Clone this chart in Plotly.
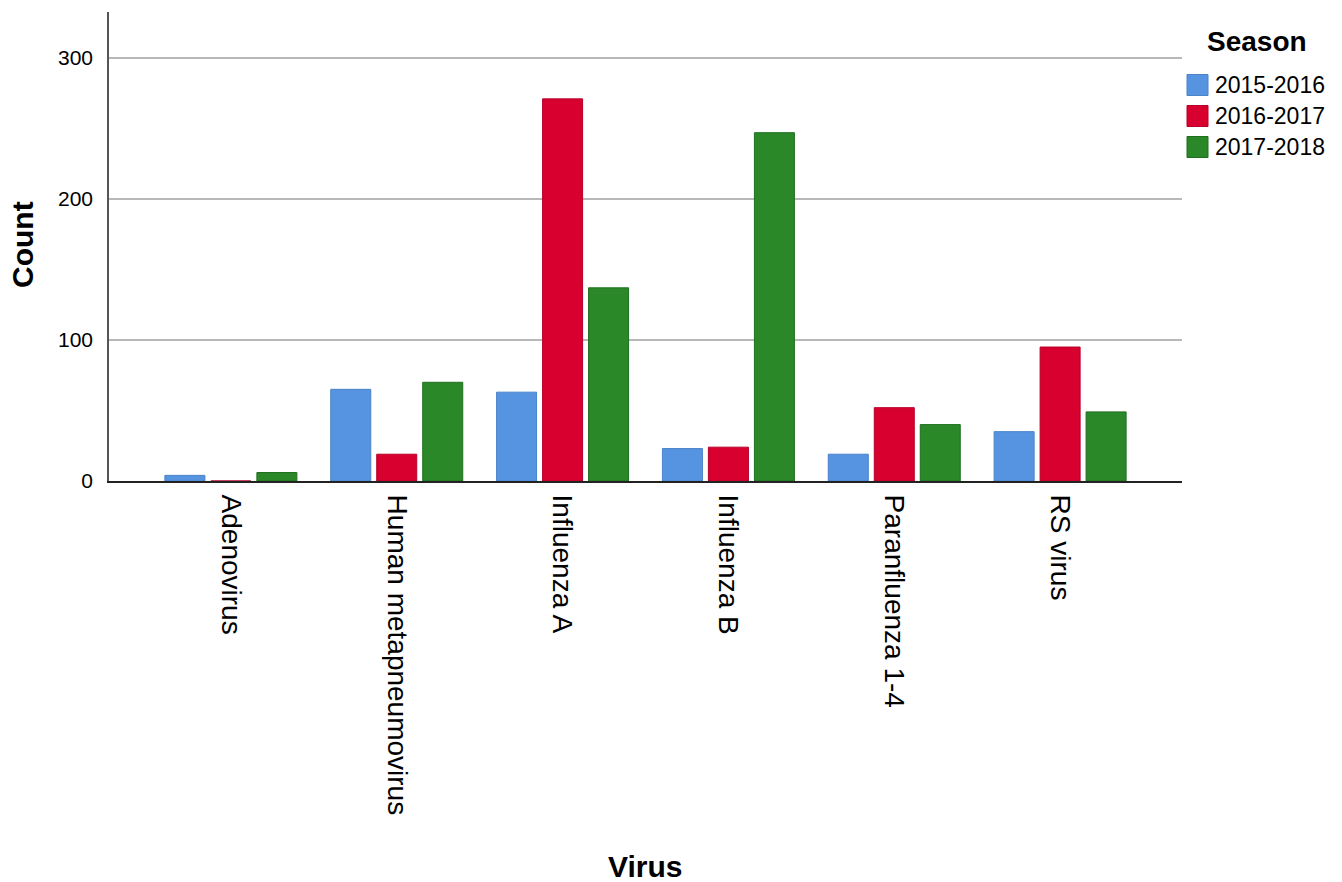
import plotly.graph_objects as go

viruses = ["Adenovirus", "Human metapneumovirus", "Influenza A", "Influenza B",
           "Paranfluenza 1-4", "RS virus"]
seasons = ["2015-2016", "2016-2017", "2017-2018"]
counts_2015_2016 = [4, 65, 63, 23, 19, 35]
counts_2016_2017 = [0, 19, 271, 24, 52, 95]
counts_2017_2018 = [6, 70, 137, 247, 40, 49]
y_ticks = [0, 100, 200, 300]

series = [counts_2015_2016, counts_2016_2017, counts_2017_2018]
fills = ["#5694E1", "#D7002F", "#2A8829"]
edges = ["#4A83C8", "#B8002A", "#1F6E1F"]

FONT = "Arial, Liberation Sans, sans-serif"

fig = go.Figure()
for name, vals, fc, ec in zip(seasons, series, fills, edges):
    fig.add_trace(go.Bar(
        x=viruses, y=vals, name=name,
        marker=dict(color=fc, line=dict(color=ec, width=1)),
    ))

# plot area in pixels: left 109, right 1182, top 12, bottom 481
PL, PR, PT, PB = 109, 1182, 12, 481
def px_x(p):
    return (p - PL) / (PR - PL)
def px_y(p):
    return (PB - p) / (PB - PT)

fig.update_layout(
    width=1342, height=882,
    margin=dict(l=PL, r=1342 - PR, t=PT, b=882 - PB, autoexpand=False),
    plot_bgcolor="white", paper_bgcolor="white",
    barmode="group", bargap=0.168, bargroupgap=0.13,
    font=dict(family=FONT, color="#000000"),
    showlegend=False,
)

fig.update_xaxes(
    range=[-0.735, 5.735],
    showgrid=False, zeroline=False,
    showline=True, linecolor="#222222", linewidth=2,
    tickangle=90, tickfont=dict(size=28, family=FONT),
    ticks="", ticklabelstandoff=6, automargin=False,
)
fig.update_yaxes(
    range=[0, 332.6],
    tickvals=y_ticks, ticktext=[str(v) for v in y_ticks],
    showgrid=True, gridcolor="#B8B8B8", gridwidth=1.5,
    zeroline=False,
    showline=True, linecolor="#555555", linewidth=1.5,
    tickfont=dict(size=21, family=FONT),
    ticks="", ticklabelstandoff=10, automargin=False,
)

fig.add_annotation(text="<b>Count</b>", xref="paper", yref="paper",
                   x=px_x(22), y=px_y(245), textangle=-90, showarrow=False,
                   font=dict(size=30, family=FONT), xanchor="center", yanchor="middle")
fig.add_annotation(text="<b>Virus</b>", xref="paper", yref="paper",
                   x=px_x(645), y=px_y(866), showarrow=False,
                   font=dict(size=30, family=FONT), xanchor="center", yanchor="middle")

# custom legend (larger swatches, like the reference)
fig.add_annotation(text="<b>Season</b>", xref="paper", yref="paper",
                   x=px_x(1257), y=px_y(41), showarrow=False,
                   font=dict(size=28, family=FONT), xanchor="center", yanchor="middle")
row_centers = [85, 116, 147]
for name, fc, ec, cy in zip(seasons, fills, edges, row_centers):
    fig.add_shape(type="rect", xref="paper", yref="paper",
                  x0=px_x(1187), x1=px_x(1208), y0=px_y(cy + 10.5), y1=px_y(cy - 10.5),
                  fillcolor=fc, line=dict(color=ec, width=1))
    fig.add_annotation(text=name, xref="paper", yref="paper",
                       x=px_x(1213), y=px_y(cy), showarrow=False,
                       font=dict(size=23, family=FONT), xanchor="left", yanchor="middle")

fig.write_html("out.html",
               config={"displayModeBar": False},
               post_script="document.body.style.margin='0';document.body.style.overflow='hidden';")
